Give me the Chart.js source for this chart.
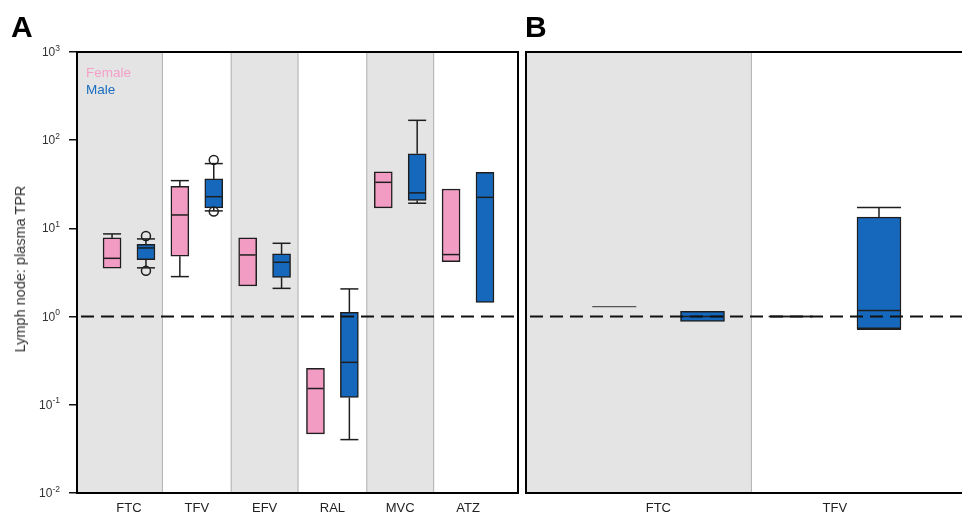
<!DOCTYPE html>
<html>
<head>
<meta charset="utf-8">
<script src="https://cdn.jsdelivr.net/npm/chart.js@4.4.0/dist/chart.umd.min.js"></script>
<style>
  html, body { margin: 0; padding: 0; background: #fff; overflow: hidden; width: 962px; height: 517px; }
  body { position: relative; font-family: 'Liberation Sans', Arial, sans-serif; }
  .panel { position: absolute; top: 0; height: 517px; }
  #wrapA { left: 0; width: 522px; }
  #wrapB { left: 522px; width: 460px; }
  .letter { position: absolute; top: 12px; font-size: 30px; font-weight: bold; line-height: 30px; color: #000; }
  .legend { position: absolute; left: 86px; top: 64px; font-size: 13.5px; line-height: 17px; }
  .ytitle { position: absolute; left: 20px; top: 269px; font-size: 14.5px; color: #333;
            white-space: nowrap; transform: translate(-50%, -50%) rotate(-90deg); }
</style>
</head>
<body>
<div class="panel" id="wrapA"><canvas id="chartA"></canvas></div>
<div class="panel" id="wrapB"><canvas id="chartB"></canvas></div>
<div class="letter" style="left:11px">A</div>
<div class="letter" style="left:525px">B</div>
<div class="legend"><div style="color:#f4a0c8">Female</div><div style="color:#1a6dc0">Male</div></div>
<div class="ytitle">Lymph node: plasma TPR</div>

<script>
/* Lymph node : plasma tissue penetration ratio, box plots by sex */

const FONT = "'Liberation Sans', Arial, sans-serif";
const PINK = '#f29cc3';
const BLUE = '#1668bd';
const EDGE = '#1e1e1e';

// panel A
const categoriesA = ['FTC', 'TFV', 'EFV', 'RAL', 'MVC', 'ATZ'];
const femaleMinA = [3.53, 2.84, 2.23, 0.0468, 17.1, 4.2];
const femaleQ1A = [3.53, 4.83, 2.23, 0.0468, 17.1, 4.2];
const femaleMedA = [4.58, 14.2, 5.0, 0.153, 33.3, 5.05];
const femaleQ3A = [7.8, 30, 7.8, 0.259, 43.7, 28];
const femaleMaxA = [8.66, 34.8, 7.8, 0.259, 43.7, 28];
const maleMinA = [3.57, 15.8, 2.09, 0.0403, 19.3, 1.45];
const maleQ1A = [4.43, 17.1, 2.79, 0.121, 20.7, 1.45];
const maleMedA = [6.0, 22.9, 4.13, 0.303, 25.3, 22.5];
const maleQ3A = [6.6, 36.4, 5.14, 1.12, 70, 43.3];
const maleMaxA = [7.6, 54.3, 6.78, 2.06, 168, 43.3];
const maleOutA = [[8.2, 3.3], [59.8, 15.5], [], [], [], []];

// panel B
const categoriesB = ['FTC', 'TFV'];
const femaleMinB = [1.3, 0.985];
const femaleQ1B = [1.3, 0.985];
const femaleMedB = [1.3, 1.0];
const femaleQ3B = [1.3, 1.02];
const femaleMaxB = [1.3, 1.02];
const maleMinB = [0.88, 0.72];
const maleQ1B = [0.88, 0.73];
const maleMedB = [1.0, 1.17];
const maleQ3B = [1.15, 13.4];
const maleMaxB = [1.15, 17.3];

const yTicks = [0.01, 0.1, 1, 10, 100, 1000];
const refLine = 1;

/** Shaded bands, whiskers, medians, outliers, reference line, frame, power tick labels */
const boxExtras = {
  id: 'boxExtras',
  beforeDatasetsDraw(chart, args, opts) {
    const { ctx, chartArea: a, scales: { x } } = chart;
    ctx.save();
    (opts.bands || []).forEach(([lo, hi]) => {
      const x0 = Math.max(x.getPixelForValue(lo), a.left);
      const x1 = Math.min(x.getPixelForValue(hi), a.right);
      ctx.fillStyle = '#e4e4e4';
      ctx.fillRect(x0, a.top, x1 - x0, a.bottom - a.top);
      ctx.strokeStyle = '#b2b2b2';
      ctx.lineWidth = 1;
      ctx.beginPath();
      ctx.moveTo(x0 + 0.5, a.top); ctx.lineTo(x0 + 0.5, a.bottom);
      ctx.moveTo(x1 - 0.5, a.top); ctx.lineTo(x1 - 0.5, a.bottom);
      ctx.stroke();
    });
    ctx.restore();
  },
  afterDatasetsDraw(chart) {
    const { ctx, chartArea: a, scales: { y } } = chart;
    ctx.save();
    ctx.strokeStyle = EDGE;
    ctx.lineWidth = 1.5;
    chart.data.datasets.forEach((ds, di) => {
      const st = ds.stats;
      if (!st) return;
      chart.getDatasetMeta(di).data.forEach((el, i) => {
        const { x, width } = el.getProps(['x', 'width'], true);
        const h = width / 2;
        const line = (x0, y0, x1, y1) => { ctx.beginPath(); ctx.moveTo(x0, y0); ctx.lineTo(x1, y1); ctx.stroke(); };
        const yMax = y.getPixelForValue(st.max[i]);
        const yQ3 = y.getPixelForValue(st.q3[i]);
        const yQ1 = y.getPixelForValue(st.q1[i]);
        const yMin = y.getPixelForValue(st.min[i]);
        if (st.max[i] > st.q3[i]) { line(x, yQ3, x, yMax); line(x - h, yMax, x + h, yMax); }
        if (st.min[i] < st.q1[i]) { line(x, yQ1, x, yMin); line(x - h, yMin, x + h, yMin); }
        const yMed = y.getPixelForValue(st.med[i]);
        if (st.q1[i] === st.q3[i]) {
          ctx.save(); ctx.strokeStyle = '#555'; ctx.lineWidth = 1.2;
          line(x - h, yMed, x + h, yMed);
          ctx.restore();
        } else {
          line(x - h + 1, yMed, x + h - 1, yMed);
        }
        (st.out ? st.out[i] : []).forEach(v => {
          ctx.beginPath();
          ctx.arc(x, y.getPixelForValue(v), 4.5, 0, Math.PI * 2);
          ctx.stroke();
        });
      });
    });
    // reference line at ratio 1
    const yr = y.getPixelForValue(refLine);
    ctx.strokeStyle = '#111';
    ctx.lineWidth = 2;
    ctx.setLineDash([13, 7]);
    ctx.beginPath();
    ctx.moveTo(a.left + 4, yr);
    ctx.lineTo(a.right, yr);
    ctx.stroke();
    ctx.setLineDash([]);
    // frame
    ctx.strokeStyle = '#000';
    ctx.lineWidth = 2;
    ctx.strokeRect(a.left, a.top, a.right - a.left, a.bottom - a.top);
    ctx.restore();
  },
  afterDraw(chart, args, opts) {
    if (!opts.powerLabels) return;
    const { ctx, chartArea: a, scales: { y } } = chart;
    ctx.save();
    ctx.fillStyle = '#333';
    ctx.textBaseline = 'alphabetic';
    ctx.textAlign = 'left';
    const right = a.left - 17;
    y.ticks.forEach(t => {
      const e = String(Math.round(Math.log10(t.value)));
      const py = y.getPixelForValue(t.value);
      ctx.font = `8.5px ${FONT}`;
      const ew = ctx.measureText(e).width;
      ctx.font = `12px ${FONT}`;
      const bw = ctx.measureText('10').width;
      ctx.fillText('10', right - ew - bw, py + 4);
      ctx.font = `8.5px ${FONT}`;
      ctx.fillText(e, right - ew, py - 1.5);
    });
    ctx.restore();
  },
};

function boxDataset(label, color, thickness, offset, q1, q3, stats) {
  return {
    label,
    data: q1.map((v, i) => ({ x: i + offset, y: [v, q3[i]] })),
    backgroundColor: color,
    borderColor: EDGE,
    borderWidth: 1.5,
    borderSkipped: false,
    barThickness: thickness,
    grouped: false,
    stats,
  };
}

function makeChart(canvasId, cats, datasets, xMin, xMax, bands, showY, padLeft) {
  return new Chart(document.getElementById(canvasId), {
    type: 'bar',
    data: { datasets },
    plugins: [boxExtras],
    options: {
      responsive: true,
      maintainAspectRatio: false,
      animation: false,
      layout: { padding: { left: padLeft, right: 4, top: 52, bottom: 0 } },
      plugins: {
        legend: { display: false },
        tooltip: { enabled: false },
        boxExtras: { bands, powerLabels: showY },
      },
      scales: {
        x: {
          type: 'linear',
          min: xMin,
          max: xMax,
          offset: false,
          afterBuildTicks: s => { s.ticks = cats.map((_, i) => ({ value: i })); },
          afterFit: s => { s.height = 24; },
          ticks: {
            autoSkip: false,
            maxRotation: 0,
            padding: 8,
            color: '#222',
            font: { family: FONT, size: 13 },
            callback: v => cats[v],
          },
          grid: { display: false, drawTicks: false },
          border: { display: false },
        },
        y: {
          type: 'logarithmic',
          display: showY,
          min: 0.01,
          max: 1000,
          afterBuildTicks: s => { s.ticks = yTicks.map(v => ({ value: v })); },
          afterFit: s => { if (showY) s.width = 77; },
          ticks: { display: false },
          grid: { drawOnChartArea: false, drawTicks: true, tickLength: 8, color: '#111', lineWidth: 1.5 },
          border: { display: false },
        },
      },
    },
  });
}

makeChart('chartA', categoriesA, [
  boxDataset('Female', PINK, 18, -0.25, femaleQ1A, femaleQ3A,
    { min: femaleMinA, q1: femaleQ1A, med: femaleMedA, q3: femaleQ3A, max: femaleMaxA }),
  boxDataset('Male', BLUE, 18, 0.25, maleQ1A, maleQ3A,
    { min: maleMinA, q1: maleQ1A, med: maleMedA, q3: maleQ3A, max: maleMaxA, out: maleOutA }),
], -0.767, 5.737, [[-0.767, 0.5], [1.5, 2.5], [3.5, 4.5]], true, 0);

makeChart('chartB', categoriesB, [
  boxDataset('Female', PINK, 44, -0.25, femaleQ1B, femaleQ3B,
    { min: femaleMinB, q1: femaleQ1B, med: femaleMedB, q3: femaleQ3B, max: femaleMaxB }),
  boxDataset('Male', BLUE, 44, 0.25, maleQ1B, maleQ3B,
    { min: maleMinB, q1: maleQ1B, med: maleMedB, q3: maleQ3B, max: maleMaxB }),
], -0.75, 1.811, [[-0.75, 0.53]], false, 4);
</script>
</body>
</html>
